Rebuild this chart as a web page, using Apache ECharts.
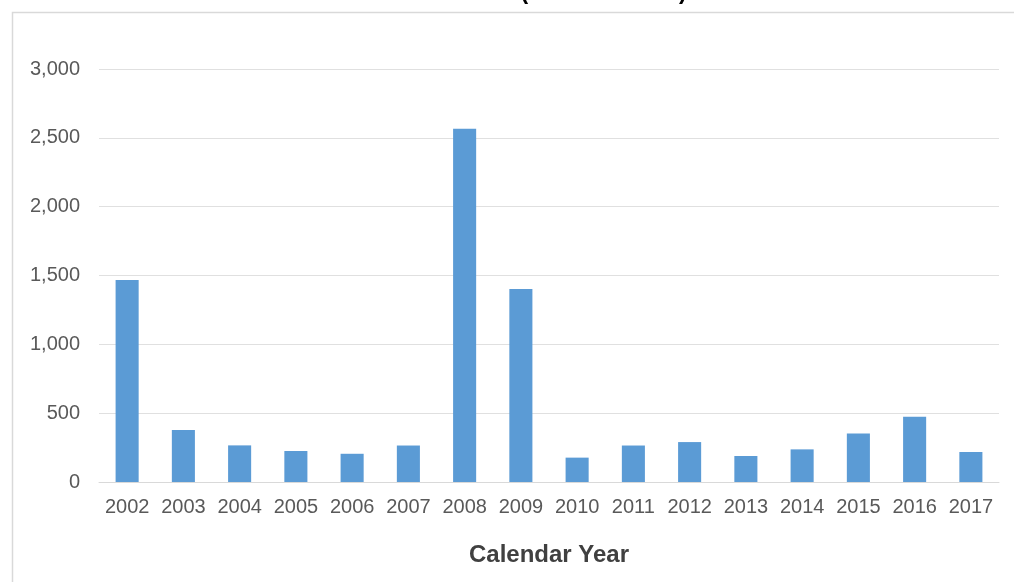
<!DOCTYPE html>
<html>
<head>
<meta charset="utf-8">
<script src="https://cdn.jsdelivr.net/npm/echarts@6/dist/echarts.min.js"></script>
<style>html,body{margin:0;padding:0;background:#fff}#c{width:1014px;height:582px}</style>
</head>
<body>
<div id="c"></div>
<script>
const categories = ['2002','2003','2004','2005','2006','2007','2008','2009','2010','2011','2012','2013','2014','2015','2016','2017'];
const values = [1467, 378, 266, 225, 205, 265, 2566, 1402, 177, 265, 290, 189, 237, 353, 474, 218];
const titleText = 'Gross Fire-Induced Loss (Acres Burned) Annual';
const xAxisTitle = 'Calendar Year';

const chart = echarts.init(document.getElementById('c'));
chart.setOption({
  animation: false,
  backgroundColor: '#fff',
  graphic: [
    { type: 'rect', silent: true, shape: { x: 12.5, y: 12.5, width: 1010, height: 600 },
      style: { fill: 'none', stroke: '#d9d9d9', lineWidth: 1.5 } },
    { type: 'text', left: 'center', top: -19,
      style: { text: titleText, font: 'bold 23px "Liberation Sans", Arial, sans-serif', fill: '#000' } }
  ],
  grid: { left: 99, right: 15, top: 69, bottom: 100 },
  xAxis: {
    type: 'category', data: categories,
    name: xAxisTitle, nameLocation: 'middle', nameGap: 61,
    nameTextStyle: { fontFamily: '"Liberation Sans", Arial, sans-serif', fontSize: 24, fontWeight: 'bold', color: '#404040' },
    axisLine: { lineStyle: { color: '#d9d9d9', width: 1 } },
    axisTick: { show: false },
    axisLabel: { interval: 0, color: '#595959', fontSize: 20, fontFamily: '"Liberation Sans", Arial, sans-serif', margin: 15 }
  },
  yAxis: {
    type: 'value', min: 0, max: 3000, interval: 500,
    axisLine: { show: false }, axisTick: { show: false },
    splitLine: { lineStyle: { color: '#e0e0e0', width: 1 } },
    axisLabel: { color: '#595959', fontSize: 20, fontFamily: '"Liberation Sans", Arial, sans-serif', margin: 19,
      formatter: v => v.toLocaleString('en-US') }
  },
  series: [{
    type: 'bar', data: values, barWidth: '41%',
    itemStyle: { color: '#5b9bd5' }
  }]
});
</script>
</body>
</html>
